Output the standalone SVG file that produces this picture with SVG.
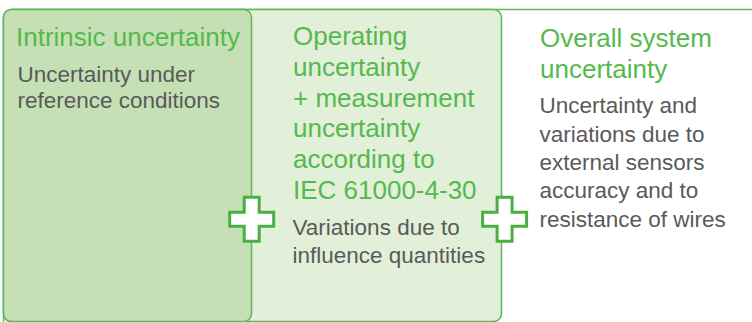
<svg xmlns="http://www.w3.org/2000/svg" width="752" height="322" viewBox="0 0 752 322">
<defs>
<style>
.box{stroke:#5cb85a;stroke-width:1.5}
.title{font-family:"Liberation Sans",Arial,sans-serif;font-size:26px;fill:#55b94d}
.body{font-family:"Liberation Sans",Arial,sans-serif;font-size:22.5px;fill:#5a5a5a}
.plus{fill:#ffffff;stroke:#4aae42;stroke-width:3;stroke-linejoin:miter}
</style>
<path id="plusShape" d="M-7.5,-22 H7.5 V-7 H22 V7 H7.5 V22 H-7.5 V7 H-22 V-7 H-7.5 Z"/>
</defs>
<rect width="752" height="322" fill="#ffffff"/>
<g id="overall">
<rect class="box" x="3.5" y="9.5" width="800" height="340" rx="8" fill="#ffffff"/>
<text class="title" x="540" y="47">Overall system</text>
<text class="title" x="540" y="78">uncertainty</text>
<text class="body" x="539.5" y="113.3">Uncertainty and</text>
<text class="body" x="539.5" y="141.6">variations due to</text>
<text class="body" x="539.5" y="169.9">external sensors</text>
<text class="body" x="539.5" y="198.2">accuracy and to</text>
<text class="body" x="539.5" y="226.5">resistance of wires</text>
</g>
<g id="operating">
<rect class="box" x="3.5" y="9.5" width="498" height="312" rx="8" fill="#e2efd9"/>
<text class="title" x="293" y="45">Operating</text>
<text class="title" x="293" y="75.8">uncertainty</text>
<text class="title" x="293" y="106.6">+ measurement</text>
<text class="title" x="293" y="137.4">uncertainty</text>
<text class="title" x="293" y="168.2">according to</text>
<text class="title" x="293" y="199">IEC 61000-4-30</text>
<text class="body" x="292.5" y="235">Variations due to</text>
<text class="body" x="292.5" y="262.7">influence quantities</text>
</g>
<g id="intrinsic">
<rect class="box" x="3.5" y="9.5" width="248" height="312" rx="8" fill="#c5e0b4"/>
<text class="title" x="16" y="45.5">Intrinsic uncertainty</text>
<text class="body" x="17.5" y="81.7">Uncertainty under</text>
<text class="body" x="17.5" y="108.3">reference conditions</text>
</g>
<g id="connectors">
<use href="#plusShape" class="plus" transform="translate(251.7,219.2)"/>
<use href="#plusShape" class="plus" transform="translate(504.6,219.2)"/>
</g>
</svg>
